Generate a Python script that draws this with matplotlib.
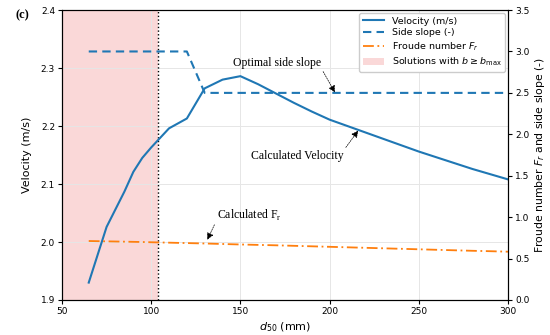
import numpy as np
import matplotlib
matplotlib.use("Agg")
from matplotlib import pyplot as plt
from matplotlib.patches import Patch
from matplotlib.lines import Line2D

# d50 (mm) and results
d50 = [65, 75, 85, 90, 95, 100, 110, 120, 130, 140, 150, 160, 170, 180, 190,
       200, 210, 220, 230, 240, 250, 260, 270, 280, 290, 300]
velocity = [1.930, 2.026, 2.087, 2.121, 2.145, 2.163, 2.196, 2.213, 2.265, 2.280,
            2.286, 2.272, 2.256, 2.240, 2.225, 2.211, 2.200, 2.189, 2.178, 2.167,
            2.156, 2.146, 2.136, 2.126, 2.117, 2.108]
side_slope = [3.0, 3.0, 3.0, 3.0, 3.0, 3.0, 3.0, 3.0, 2.5, 2.5, 2.5, 2.5, 2.5,
              2.5, 2.5, 2.5, 2.5, 2.5, 2.5, 2.5, 2.5, 2.5, 2.5, 2.5, 2.5, 2.5]
froude = [0.712, 0.708, 0.704, 0.702, 0.700, 0.697, 0.692, 0.687, 0.682, 0.676,
          0.670, 0.665, 0.660, 0.654, 0.648, 0.642, 0.636, 0.630, 0.624, 0.618,
          0.612, 0.606, 0.600, 0.594, 0.589, 0.583]
d50_bmax = 104  # d50 where b reaches b_max

blue = '#1f77b4'
orange = '#ff7f0e'
serif = 'Liberation Serif'

fig = plt.figure(figsize=(5.5, 3.35), dpi=100)
ax1 = fig.add_axes([0.1127, 0.1045, 0.8109, 0.8655])
ax2 = ax1.twinx()

ax1.axvspan(50, d50_bmax, color='lightcoral', alpha=0.3, lw=0, zorder=0)
ax1.axvline(d50_bmax, color='k', ls=':', lw=1.0)
ax1.grid(True, color='#e6e6e6', lw=0.7)
ax1.set_axisbelow(True)

ax1.plot(d50, velocity, color=blue, lw=1.5)
ax2.plot(d50, side_slope, color=blue, lw=1.5, ls=(0, (4, 2.5)))
ax2.plot(d50, froude, color=orange, lw=1.3, ls=(0, (6, 2, 1, 2)))

ax1.set_xlim(50, 300)
ax1.set_ylim(1.9, 2.4)
ax2.set_ylim(0, 3.5)
ax1.set_xticks(np.arange(50, 301, 50))
ax1.set_yticks(np.arange(1.9, 2.41, 0.1))
ax2.set_yticks(np.arange(0, 3.51, 0.5))
ax1.tick_params(labelsize=6.5, length=3, width=0.8, pad=2)
ax2.tick_params(labelsize=6.5, length=3, width=0.8, pad=2)

ax1.set_xlabel('$d_{50}$ (mm)', fontsize=8, labelpad=3)
ax1.set_ylabel('Velocity (m/s)', fontsize=8, labelpad=6)
ax2.set_ylabel('Froude number $F_r$ and side slope (-)', fontsize=7.8, labelpad=3)

handles = [Line2D([], [], color=blue, lw=1.5),
           Line2D([], [], color=blue, lw=1.5, ls=(0, (4, 2.5))),
           Line2D([], [], color=orange, lw=1.3, ls=(0, (6, 2, 1, 2))),
           Patch(facecolor='lightcoral', alpha=0.3)]
labels = ['Velocity (m/s)', 'Side slope (-)', 'Froude number $F_r$',
          'Solutions with $b \\geq b_{\\max}$']
ax2.legend(handles, labels, loc='upper right', fontsize=6.8, framealpha=1,
           edgecolor='#cccccc', borderaxespad=0.3, handlelength=2.2,
           labelspacing=0.3, fancybox=True)

arrow = dict(arrowstyle='-|>', color='k', lw=0.5, ls=(0, (2, 1.5)),
             mutation_scale=10, shrinkA=0, shrinkB=0)
ax1.annotate('Optimal side slope', xy=(203, 2.258), xytext=(170.8, 2.309),
             ha='center', va='center', family=serif, fontsize=8.5,
             arrowprops=dict(arrow, relpos=(1.0, 0.0)))
ax1.annotate('Calculated Velocity', xy=(216, 2.192), xytext=(182, 2.148),
             ha='center', va='center', family=serif, fontsize=8.5,
             arrowprops=dict(arrow, relpos=(1.0, 1.0)))
ax1.annotate('Calculated F$_\\mathregular{r}$', xy=(131.5, 2.004), xytext=(137, 2.045),
             ha='left', va='center', family=serif, fontsize=8.5,
             arrowprops=dict(arrow, relpos=(0.0, 0.3)))

fig.text(0.04, 0.955, '(c)', family=serif, fontsize=9, fontweight='bold',
         ha='center', va='center')

fig.savefig('out.png', dpi=100)
